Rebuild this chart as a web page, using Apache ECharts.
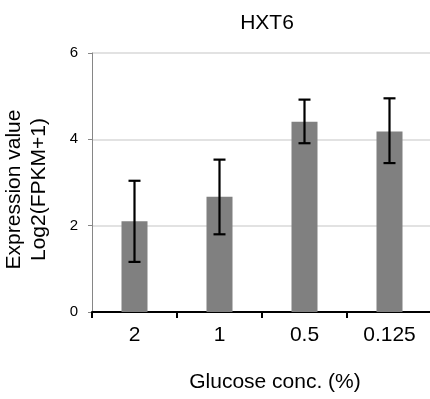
<!DOCTYPE html>
<html>
<head>
<meta charset="utf-8">
<script src="https://cdn.jsdelivr.net/npm/echarts@6/dist/echarts.min.js"></script>
<style>
  html, body { margin: 0; padding: 0; background: #fff; }
  #chart { width: 430px; height: 399px; }
</style>
</head>
<body>
<div id="chart"></div>
<script>
// HXT6 expression across glucose concentrations
const categories = ['2', '1', '0.5', '0.125'];
const meanValues = [2.10, 2.67, 4.41, 4.18];
const errLow = [1.16, 1.80, 3.91, 3.45];
const errHigh = [3.04, 3.53, 4.92, 4.95];
const yMin = 0, yMax = 6, yStep = 2;

const FONT = '"Liberation Sans", Arial, sans-serif';
const chart = echarts.init(document.getElementById('chart'), null, { renderer: 'canvas' });

// whiskers: vertical stem plus top and bottom caps
function renderErrorBar(params, api) {
  const idx = api.value(0);
  const lo = api.coord([idx, api.value(1)]);
  const hi = api.coord([idx, api.value(2)]);
  const half = 6;
  const style = { stroke: '#000', lineWidth: 2.2 };
  return {
    type: 'group',
    children: [
      { type: 'line', shape: { x1: lo[0], y1: lo[1], x2: hi[0], y2: hi[1] }, style },
      { type: 'line', shape: { x1: hi[0] - half, y1: hi[1], x2: hi[0] + half, y2: hi[1] }, style },
      { type: 'line', shape: { x1: lo[0] - half, y1: lo[1], x2: lo[0] + half, y2: lo[1] }, style }
    ]
  };
}

chart.setOption({
  animation: false,
  backgroundColor: '#fff',
  title: {
    text: 'HXT6',
    left: 262,
    top: 8,
    textAlign: 'center',
    textStyle: { fontFamily: FONT, fontSize: 21, fontWeight: 'normal', color: '#000' }
  },
  grid: { left: 92, right: -2, top: 53, bottom: 87, containLabel: false, outerBoundsMode: 'none' },
  xAxis: {
    type: 'category',
    data: categories,
    boundaryGap: true,
    name: 'Glucose conc. (%)',
    nameLocation: 'middle',
    nameGap: 60,
    nameTextStyle: { fontFamily: FONT, fontSize: 21, color: '#000', padding: [0, 0, 0, 26] },
    axisLine: { lineStyle: { color: '#000', width: 2 } },
    axisTick: { show: true, inside: false, length: 6, alignWithLabel: false, lineStyle: { color: '#000', width: 2 } },
    axisLabel: { fontFamily: FONT, fontSize: 21, color: '#000', margin: 13 },
    splitLine: { show: false }
  },
  yAxis: {
    type: 'value',
    min: yMin,
    max: yMax,
    interval: yStep,
    name: 'Expression value\nLog2(FPKM+1)',
    nameLocation: 'middle',
    nameGap: 40,
    nameTextStyle: { fontFamily: FONT, fontSize: 21, color: '#000', lineHeight: 25, align: 'center', padding: [0, 14, 0, 0] },
    axisLine: { show: true, lineStyle: { color: '#868686', width: 1 } },
    axisTick: { show: true, inside: false, length: 4, lineStyle: { color: '#868686', width: 1 } },
    axisLabel: { fontFamily: FONT, fontSize: 15, color: '#000', margin: 14 },
    splitLine: { show: true, lineStyle: { color: '#d9d9d9', width: 1.5 } }
  },
  series: [
    {
      type: 'bar',
      data: meanValues,
      barWidth: 26,
      itemStyle: { color: '#808080' },
      z: 2
    },
    {
      type: 'custom',
      renderItem: renderErrorBar,
      data: categories.map((c, i) => [i, errLow[i], errHigh[i]]),
      encode: { x: 0, y: [1, 2] },
      z: 3
    }
  ]
});
</script>
</body>
</html>
